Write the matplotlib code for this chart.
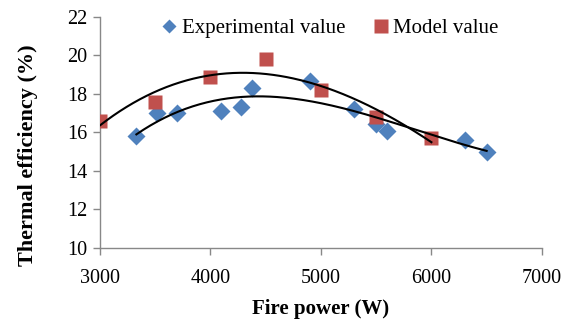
import numpy as np
import matplotlib
matplotlib.use("Agg")
import matplotlib.pyplot as plt

# experimental data (blue diamonds)
exp_power = [3330, 3520, 3700, 4100, 4280, 4380, 4900, 5300, 5500, 5600, 6300, 6500]
exp_eff = [15.8, 17.0, 17.0, 17.1, 17.3, 18.3, 18.65, 17.2, 16.45, 16.1, 15.6, 15.0]

# model data (red squares)
mod_power = [3000, 3500, 4000, 4500, 5000, 5500, 6000]
mod_eff = [16.6, 17.6, 18.9, 19.8, 18.2, 16.8, 15.7]

plt.rcParams['font.family'] = ['Liberation Serif', 'DejaVu Serif']

fig = plt.figure(figsize=(5.71, 3.2), dpi=100)
ax = fig.add_axes([0.175, 0.225, 0.774, 0.722])

blue = '#4F81BD'
red = '#C0504D'

ax.plot(exp_power, exp_eff, 'D', color=blue, ms=9, mec='none', label='Experimental value', zorder=3)
ax.plot(mod_power, mod_eff, 's', color=red, ms=10, mec='none', label='Model value', zorder=3)

# polynomial trendlines (as in Excel)
p_exp = np.polyfit(exp_power, exp_eff, 3)
xe = np.linspace(min(exp_power), max(exp_power), 200)
ax.plot(xe, np.polyval(p_exp, xe), color='black', lw=1.5, zorder=4)
p_mod = np.polyfit(mod_power, mod_eff, 3)
xm = np.linspace(min(mod_power), max(mod_power), 200)
ax.plot(xm, np.polyval(p_mod, xm), color='black', lw=1.5, zorder=4)

ax.set_xlim(3000, 7000)
ax.set_ylim(10, 22)
ax.set_xticks(range(3000, 7001, 1000))
ax.set_yticks(range(10, 23, 2))

for s in ['top', 'right']:
    ax.spines[s].set_visible(False)
for s in ['left', 'bottom']:
    ax.spines[s].set_color('#888888')
    ax.spines[s].set_linewidth(1)
ax.tick_params(axis='both', colors='#888888', labelcolor='black', labelsize=14.5, length=5, width=1)
ax.tick_params(axis='x', pad=10)
ax.tick_params(axis='y', pad=4)

ax.set_xlabel('Fire power (W)', fontsize=15, fontweight='bold', labelpad=8)
ax.set_ylabel('Thermal efficiency (%)', fontsize=16, fontweight='bold')
ax.yaxis.set_label_coords(-0.14, 0.40)

leg = ax.legend(loc='upper center', bbox_to_anchor=(0.52, 1.075), ncol=2, frameon=False,
                fontsize=15, handletextpad=0.2, columnspacing=1.3, handlelength=0.8)
leg.legend_handles[0].set_markersize(7)
leg.legend_handles[1].set_markersize(9.5)

fig.savefig('out.png', dpi=100)
